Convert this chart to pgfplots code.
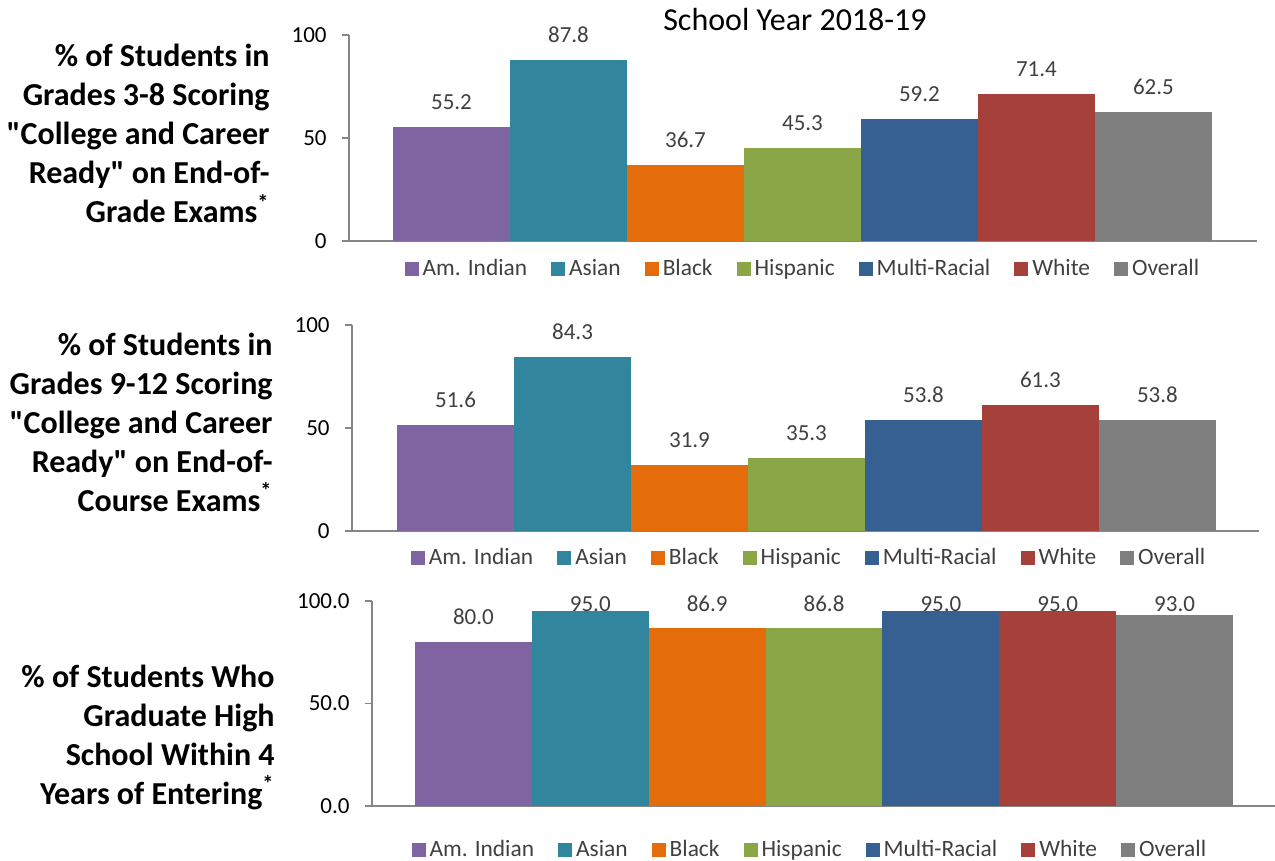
\documentclass[border=0pt]{standalone}
\usepackage{fontspec}
\setmainfont{Carlito}
\usepackage{pgfplots}
\pgfplotsset{compat=1.18}

\definecolor{purp}{HTML}{8064A2}
\definecolor{teal}{HTML}{31859C}
\definecolor{orng}{HTML}{E46C0A}
\definecolor{grn}{HTML}{8BA646}
\definecolor{dblue}{HTML}{376092}
\definecolor{dred}{HTML}{A6403B}
\definecolor{gry}{HTML}{7F7F7F}
\definecolor{axisgray}{HTML}{868686}
\definecolor{labgray}{HTML}{404040}

% straight double quote, past the TeX ligature mapping
\newcommand\dq{\XeTeXglyph\XeTeXcharglyph"22\relax}

\pgfplotsset{
  /pgf/number format/assume math mode=true,
  lbl/.style={every node near coord/.append style={yshift=#1}},
  panel/.style={
    scale only axis, ybar, bar width=1, /pgf/bar shift=0pt,
    ymin=0, ymax=100, ytick={0,50,100}, xtick=\empty,
    axis lines*=left,
    axis line style={axisgray, line width=0.9pt},
    major tick length=3.5pt, tick align=outside,
    ytick style={axisgray, line width=0.9pt},
    yticklabel style={font=\fontsize{11.5}{13}\selectfont, inner sep=0pt, xshift=-7.5pt},
    clip=false,
    nodes near coords={\pgfmathprintnumber[fixed,fixed zerofill,precision=1]{\pgfplotspointmeta}},
    every node near coord/.append style={font=\fontsize{11.5}{13}\selectfont, text=labgray, inner sep=0pt, anchor=south},
    legend columns=7,
    legend style={draw=none, fill=none, font=\fontsize{11.7}{13}\selectfont, text=labgray,
      anchor=center, /tikz/every even column/.append style={column sep=10pt}},
    legend image code/.code={\fill[##1] (0pt,-3.5pt) rectangle (7pt,3.5pt);},
  },
}
\tikzset{sidelabel/.style={anchor=north east, align=right, inner sep=0pt,
    font=\fontsize{16}{19.5}\selectfont\bfseries}}

\begin{document}
\begin{tikzpicture}
\path[use as bounding box] (0pt,0pt) rectangle (637.5pt,430.5pt);

% Grades 3-8
\begin{axis}[panel, at={(174.5pt,310pt)}, anchor=south west,
  width=454pt, height=103pt, xmin=-0.876, xmax=6.885,
  legend style={at={(0.501,-0.136)}}]
\addplot[fill=purp, draw=none, lbl=8.5pt] coordinates {(0,55.2)};
\addplot[fill=teal, draw=none, lbl=8.5pt] coordinates {(1,87.8)};
\addplot[fill=orng, draw=none, lbl=8.5pt] coordinates {(2,36.7)};
\addplot[fill=grn, draw=none, lbl=8.5pt] coordinates {(3,45.3)};
\addplot[fill=dblue, draw=none, lbl=8.5pt] coordinates {(4,59.2)};
\addplot[fill=dred, draw=none, lbl=8.5pt] coordinates {(5,71.4)};
\addplot[fill=gry, draw=none, lbl=8.5pt] coordinates {(6,62.5)};
\legend{Am. Indian, Asian, Black, Hispanic, Multi-Racial, White, Overall}
\end{axis}

% Grades 9-12
\begin{axis}[panel, at={(176pt,165pt)}, anchor=south west,
  width=453.5pt, height=103pt, xmin=-0.885, xmax=6.868,
  legend style={at={(0.505,-0.131)}}]
\addplot[fill=purp, draw=none, lbl=8.5pt] coordinates {(0,51.6)};
\addplot[fill=teal, draw=none, lbl=8.5pt] coordinates {(1,84.3)};
\addplot[fill=orng, draw=none, lbl=8.5pt] coordinates {(2,31.9)};
\addplot[fill=grn, draw=none, lbl=8.5pt] coordinates {(3,35.3)};
\addplot[fill=dblue, draw=none, lbl=8.5pt] coordinates {(4,53.8)};
\addplot[fill=dred, draw=none, lbl=8.5pt] coordinates {(5,61.3)};
\addplot[fill=gry, draw=none, lbl=8.5pt] coordinates {(6,53.8)};
\legend{Am. Indian, Asian, Black, Hispanic, Multi-Racial, White, Overall}
\end{axis}

% Graduation rate
\begin{axis}[panel, at={(186pt,27.5pt)}, anchor=south west,
  width=451.5pt, height=102.5pt, xmin=-0.868, xmax=6.859,
  yticklabel style={/pgf/number format/.cd, fixed, fixed zerofill, precision=1},
  legend style={at={(0.486,-0.215)}}]
\addplot[fill=purp, draw=none, lbl=8.5pt] coordinates {(0,80.0)};
\addplot[fill=teal, draw=none, lbl=-0.35pt] coordinates {(1,95.0)};
\addplot[fill=orng, draw=none, lbl=7.8pt] coordinates {(2,86.9)};
\addplot[fill=grn, draw=none, lbl=7.9pt] coordinates {(3,86.8)};
\addplot[fill=dblue, draw=none, lbl=-0.35pt] coordinates {(4,95.0)};
\addplot[fill=dred, draw=none, lbl=-0.35pt] coordinates {(5,95.0)};
\addplot[fill=gry, draw=none, lbl=1.75pt] coordinates {(6,93.0)};
\legend{Am. Indian, Asian, Black, Hispanic, Multi-Racial, White, Overall}
\end{axis}

\node[font=\fontsize{16}{19}\selectfont] at (397.5pt,420.5pt) {School Year 2018-19};

\node[sidelabel] at (135pt,408.5pt)
  {\% of Students in\\Grades 3-8 Scoring\\\dq College and Career\\Ready\dq{} on End-of-\\Grade Exams\textsuperscript{*}};
\node[sidelabel] at (136.5pt,264.2pt)
  {\% of Students in\\Grades 9-12 Scoring\\\dq College and Career\\Ready\dq{} on End-of-\\Course Exams\textsuperscript{*}};
\node[sidelabel] at (137.5pt,98.2pt)
  {\% of Students Who\\Graduate High\\School Within 4\\Years of Entering\textsuperscript{*}};
\end{tikzpicture}
\end{document}
